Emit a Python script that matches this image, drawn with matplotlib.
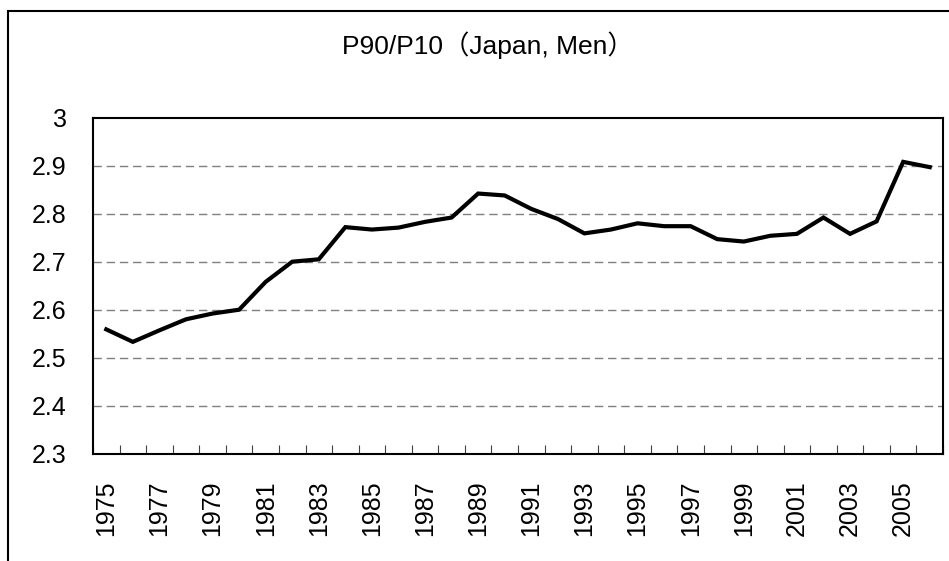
import matplotlib
matplotlib.use("Agg")
import matplotlib.pyplot as plt
from matplotlib.patches import Rectangle
from matplotlib.ticker import FixedLocator, MultipleLocator

plt.rcParams['font.family'] = ['Liberation Sans', 'Noto Sans CJK JP', 'DejaVu Sans']

years = list(range(1975, 2007))
values = [2.559, 2.533, 2.557, 2.580, 2.592, 2.600, 2.658, 2.700, 2.705, 2.772,
          2.767, 2.771, 2.783, 2.792, 2.842, 2.838, 2.810, 2.789, 2.759, 2.767,
          2.780, 2.774, 2.774, 2.747, 2.742, 2.754, 2.758, 2.792, 2.758, 2.784,
          2.908, 2.897]
title = "P90/P10（Japan, Men）"
y_ticks = [2.3, 2.4, 2.5, 2.6, 2.7, 2.8, 2.9, 3.0]
y_labels = ["2.3", "2.4", "2.5", "2.6", "2.7", "2.8", "2.9", "3"]

W, H = 949, 561
fig = plt.figure(figsize=(W / 100, H / 100), dpi=100)
fig.patch.set_facecolor('white')

# outer chart frame
fig.add_artist(Rectangle((7.5 / W, -0.2), 1.3, 1 - 10.5 / H + 0.2,
                         transform=fig.transFigure, fill=False,
                         edgecolor='black', linewidth=1.5))

left, right, top, bottom = 93, 943, 117.7, 453.7
ax = fig.add_axes([left / W, 1 - bottom / H, (right - left) / W, (bottom - top) / H])

x = list(range(len(years)))
ax.plot(x, values, color='black', linewidth=3.0, solid_joinstyle='miter', zorder=3)

ax.set_xlim(-0.5, len(years) - 0.5)
ax.set_ylim(2.3, 3.0)

ax.set_yticks(y_ticks)
ax.set_yticklabels(y_labels, fontsize=18)
ax.tick_params(axis='y', length=0, pad=19)

label_pos = [i for i, yv in enumerate(years) if (yv - 1975) % 2 == 0]
ax.set_xticks(label_pos)
ax.set_xticklabels([str(years[i]) for i in label_pos], rotation=90, fontsize=18)
ax.tick_params(axis='x', which='major', length=0, pad=19)
ax.xaxis.set_minor_locator(FixedLocator([i - 0.5 for i in range(len(years) + 1)]))
ax.tick_params(axis='x', which='minor', direction='in', length=6.5, width=0.8, color='#404040')

for yv in y_ticks[1:-1]:
    ax.axhline(yv, color='#7f7f7f', linewidth=1.0, linestyle=(0, (6, 3.5)), zorder=1)

for s in ax.spines.values():
    s.set_linewidth(1.5)
    s.set_color('black')

fig.text(488 / W, 1 - 45 / H, title, ha='center', va='center', fontsize=19)

fig.savefig('out.png', dpi=100)
